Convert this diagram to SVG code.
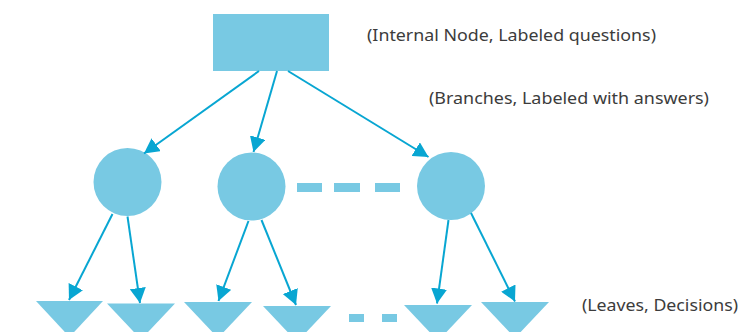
<svg xmlns="http://www.w3.org/2000/svg" width="742" height="332" viewBox="0 0 742 332">
  <style>
    .node { fill: #78c9e3; }
    .edge { stroke: #08a6d2; stroke-width: 2; fill: none; marker-end: url(#arrow); }
    .label { font-family: "Noto Sans", "Open Sans", "Liberation Sans", sans-serif; font-size: 16px; fill: #3c3c3c; }
  </style>
  <defs>
    <marker id="arrow" markerUnits="userSpaceOnUse" markerWidth="16" markerHeight="16" viewBox="0 0 16 16" refX="15" refY="8" orient="auto">
      <path d="M0,0 L15,8 L0,16 Z" fill="#08a6d2"/>
    </marker>
  </defs>
  <rect width="742" height="332" fill="#ffffff"/>

  <!-- root: internal node -->
  <g id="root">
    <rect class="node" x="213" y="14" width="116" height="57"/>
  </g>

  <!-- branch nodes -->
  <g id="branch-1"><circle class="node" cx="127.5" cy="182" r="34"/></g>
  <g id="branch-2"><circle class="node" cx="251.5" cy="186.5" r="34"/></g>
  <g id="branch-3"><circle class="node" cx="451" cy="186" r="34"/></g>

  <!-- ellipsis between branch nodes -->
  <g id="branch-ellipsis" class="node">
    <rect x="297" y="183" width="25" height="9"/>
    <rect x="334" y="183" width="26" height="9"/>
    <rect x="375" y="183" width="25" height="9"/>
  </g>

  <!-- leaves -->
  <g id="leaf-1"><polygon class="node" points="36,301 103,301 69.5,337"/></g>
  <g id="leaf-2"><polygon class="node" points="107,303.5 175,303.5 141,339.5"/></g>
  <g id="leaf-3"><polygon class="node" points="184,302 252,302 218,338"/></g>
  <g id="leaf-4"><polygon class="node" points="263,306 331,306 297,342"/></g>
  <g id="leaf-5"><polygon class="node" points="404,305 472,305 438,341"/></g>
  <g id="leaf-6"><polygon class="node" points="481,302 549,302 515,338"/></g>

  <!-- ellipsis between leaves -->
  <g id="leaf-ellipsis" class="node">
    <rect x="349" y="314" width="15" height="8"/>
    <rect x="382" y="314" width="15" height="8"/>
  </g>

  <!-- connectors -->
  <g id="connectors">
    <line class="edge" x1="259" y1="71" x2="144" y2="153.5"/>
    <line class="edge" x1="277" y1="71" x2="253.5" y2="152"/>
    <line class="edge" x1="288" y1="71" x2="428.5" y2="157"/>

    <line class="edge" x1="112.5" y1="214" x2="69" y2="300"/>
    <line class="edge" x1="127.5" y1="216.5" x2="140" y2="303"/>
    <line class="edge" x1="248.5" y1="221" x2="218.5" y2="301"/>
    <line class="edge" x1="261.5" y1="220" x2="296" y2="305"/>
    <line class="edge" x1="448.5" y1="220" x2="437" y2="303.5"/>
    <line class="edge" x1="471" y1="213" x2="515" y2="301.5"/>
  </g>

  <!-- annotations -->
  <g id="annotations">
    <text class="label" x="367" y="41" textLength="289" lengthAdjust="spacingAndGlyphs">(Internal Node, Labeled questions)</text>
    <text class="label" x="429" y="104" textLength="280" lengthAdjust="spacingAndGlyphs">(Branches, Labeled with answers)</text>
    <text class="label" x="582" y="311" textLength="156" lengthAdjust="spacingAndGlyphs">(Leaves, Decisions)</text>
  </g>
</svg>
